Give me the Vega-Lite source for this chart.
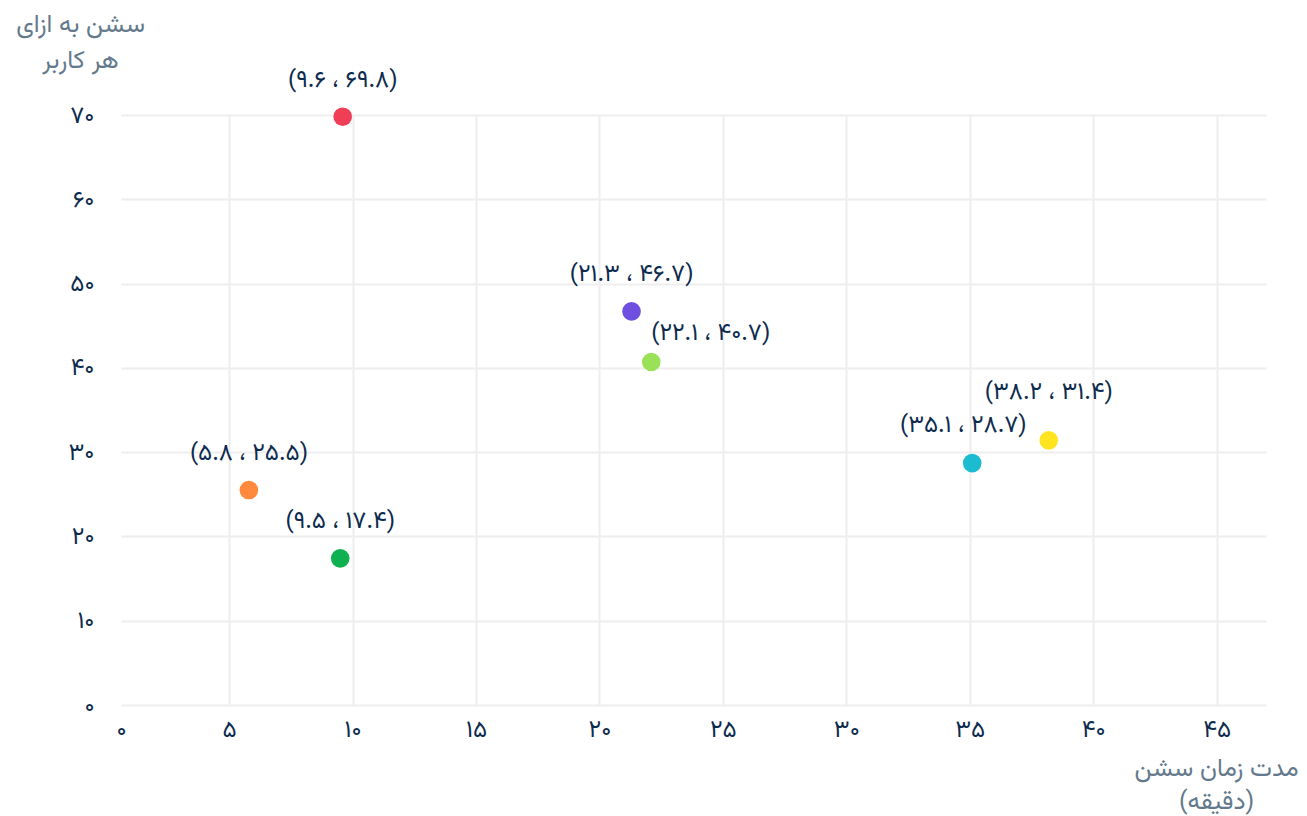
{
  "$schema": "https://vega.github.io/schema/vega-lite/v6.json",
  "width": 1145,
  "height": 590,
  "autosize": {"type": "none"},
  "padding": {"left": 121, "top": 115, "right": 41, "bottom": 111},
  "background": "white",
  "config": {
    "view": {"stroke": null},
    "font": "Vazirmatn, DejaVu Sans",
    "axis": {
      "labelFont": "Vazirmatn, DejaVu Sans",
      "titleFont": "Vazirmatn, DejaVu Sans",
      "labelFontSize": 24,
      "labelColor": "#0d2b4e",
      "titleFontSize": 25,
      "titleFontWeight": "normal",
      "titleColor": "#647a8c",
      "gridColor": "#eeeeee",
      "gridWidth": 2,
      "domain": false,
      "ticks": false,
      "labelOverlap": false,
      "labelFlush": false
    }
  },
  "data": {
    "values": [
      {"id": "a", "x": 9.6, "y": 69.8, "label": "(۹.۶ ، ۶۹.۸)"},
      {"id": "b", "x": 5.8, "y": 25.5, "label": "(۵.۸ ، ۲۵.۵)"},
      {"id": "c", "x": 9.5, "y": 17.4, "label": "(۹.۵ ، ۱۷.۴)"},
      {"id": "d", "x": 21.3, "y": 46.7, "label": "(۲۱.۳ ، ۴۶.۷)"},
      {"id": "e", "x": 22.1, "y": 40.7, "label": "(۲۲.۱ ، ۴۰.۷)"},
      {"id": "f", "x": 35.1, "y": 28.7, "label": "(۳۵.۱ ، ۲۸.۷)"},
      {"id": "g", "x": 38.2, "y": 31.4, "label": "(۳۸.۲ ، ۳۱.۴)"}
    ]
  },
  "encoding": {
    "x": {
      "field": "x",
      "type": "quantitative",
      "scale": {"domain": [0.62, 47], "nice": false, "zero": false},
      "axis": {
        "values": [0.62, 5, 10, 15, 20, 25, 30, 35, 40, 45],
        "labelExpr": "{'0':'۰','5':'۵','10':'۱۰','15':'۱۵','20':'۲۰','25':'۲۵','30':'۳۰','35':'۳۵','40':'۴۰','45':'۴۵'}['' + round(datum.value/5)*5]",
        "labelPadding": 12,
        "labelBaseline": "top",
        "gridColor": {"condition": {"test": "datum.value < 1", "value": "transparent"}, "value": "#eeeeee"},
        "title": ["مدت زمان سشن", "(دقیقه)"],
        "titleX": 1095,
        "titleY": 50,
        "titleAlign": "center",
        "titleBaseline": "top",
        "titleLineHeight": 33
      }
    },
    "y": {
      "field": "y",
      "type": "quantitative",
      "scale": {"domain": [0, 70], "nice": false},
      "axis": {
        "values": [0, 10, 20, 30, 40, 50, 60, 70],
        "labelExpr": "{'0':'۰','10':'۱۰','20':'۲۰','30':'۳۰','40':'۴۰','50':'۵۰','60':'۶۰','70':'۷۰'}['' + round(datum.value)]",
        "labelPadding": 27,
        "labelBaseline": "middle",
        "title": ["سشن به ازای", "هر کاربر"],
        "titleAngle": 0,
        "titleX": -41,
        "titleY": -104,
        "titleAlign": "center",
        "titleBaseline": "top",
        "titleLineHeight": 36
      }
    }
  },
  "layer": [
    {
      "mark": {"type": "circle", "size": 346, "opacity": 1},
      "encoding": {
        "color": {
          "field": "id",
          "type": "nominal",
          "scale": {
            "domain": ["a", "b", "c", "d", "e", "f", "g"],
            "range": ["#ef3e55", "#ff8a3d", "#0fb050", "#6f4fe0", "#9be059", "#1cbcd0", "#ffe41f"]
          },
          "legend": null
        }
      }
    },
    {
      "transform": [{"filter": "datum.id != 'e' && datum.id != 'f' && datum.id != 'g'"}],
      "mark": {"type": "text", "align": "center", "baseline": "middle", "dy": -37, "fontSize": 24, "color": "#0d2b4e"},
      "encoding": {"text": {"field": "label"}}
    },
    {
      "transform": [{"filter": "datum.id == 'e'"}],
      "mark": {"type": "text", "align": "left", "baseline": "middle", "dy": -29, "fontSize": 24, "color": "#0d2b4e"},
      "encoding": {"text": {"field": "label"}}
    },
    {
      "transform": [{"filter": "datum.id == 'f'"}],
      "mark": {"type": "text", "align": "center", "baseline": "middle", "dx": -9, "dy": -38, "fontSize": 24, "color": "#0d2b4e"},
      "encoding": {"text": {"field": "label"}}
    },
    {
      "transform": [{"filter": "datum.id == 'g'"}],
      "mark": {"type": "text", "align": "center", "baseline": "middle", "dy": -48, "fontSize": 24, "color": "#0d2b4e"},
      "encoding": {"text": {"field": "label"}}
    }
  ]
}
